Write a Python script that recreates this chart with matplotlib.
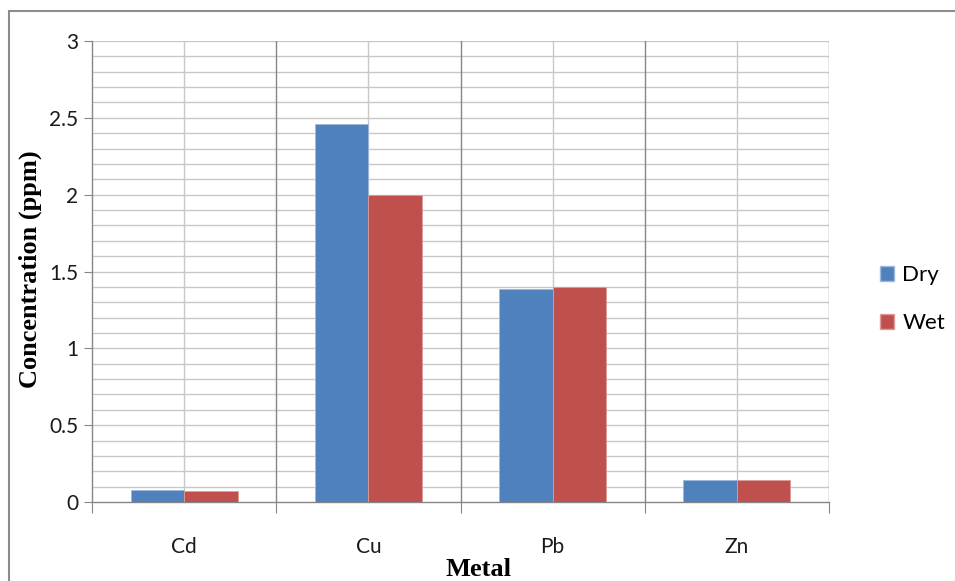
import matplotlib.pyplot as plt
import numpy as np
from matplotlib.patches import Rectangle, Patch

# data
metals = ['Cd', 'Cu', 'Pb', 'Zn']
dry = [0.08, 2.46, 1.385, 0.145]
wet = [0.07, 2.00, 1.40, 0.145]
yticks = [0, 0.5, 1, 1.5, 2, 2.5, 3]
ytick_labels = ['0', '0.5', '1', '1.5', '2', '2.5', '3']

blue = '#4F81BD'
red = '#C0504D'
grid_c = '#C8C8C8'
axis_c = '#868686'

W, H = 955, 581
fig = plt.figure(figsize=(W / 100, H / 100), dpi=100)
ax = fig.add_axes([92 / W, 1 - 502 / H, (829 - 92) / W, (502 - 41) / H])

# outer chart frame (left and top edges visible, rest runs off the picture)
fig.patches.append(Rectangle((9 / W, -0.1), 1.2, 1 - 11 / H + 0.1,
                             transform=fig.transFigure, fill=False,
                             edgecolor='#8C8C8C', linewidth=1.5, zorder=0))

x = np.arange(len(metals))
bw = 0.29
ax.bar(x - bw / 2, dry, bw, color=blue, edgecolor='#9DB9DC', linewidth=0.6, zorder=3)
ax.bar(x + bw / 2, wet, bw, color=red, edgecolor='#DC9D9B', linewidth=0.6, zorder=3)

ax.set_xlim(-0.5, len(metals) - 0.5)
ax.set_ylim(0, 3)

# horizontal gridlines every 0.1
for v in np.arange(0.1, 3.01, 0.1):
    ax.axhline(v, color=grid_c, linewidth=1.0, zorder=1)
# vertical lines: category centres (light) and boundaries (darker)
for c in x:
    ax.axvline(c, color=grid_c, linewidth=1.0, zorder=1)
for b in np.arange(0.5, len(metals) - 0.4, 1):
    ax.axvline(b, color=axis_c, linewidth=1.0, zorder=1)

for s in ['top', 'right']:
    ax.spines[s].set_visible(False)
for s in ['left', 'bottom']:
    ax.spines[s].set_color(axis_c)
    ax.spines[s].set_linewidth(1.0)

font = ['Lato', 'DejaVu Sans']
ax.set_yticks(yticks)
ax.set_yticklabels(ytick_labels, fontsize=15, family=font, color='#1a1a1a')
ax.tick_params(axis='y', length=6, color=axis_c, pad=4)

ax.set_xticks(np.arange(-0.5, len(metals), 1))
ax.set_xticklabels([])
ax.tick_params(axis='x', which='major', length=8, color=axis_c)
ax.set_xticks(x, minor=True)
ax.set_xticklabels(metals, minor=True, fontsize=15, family=font, color='#1a1a1a')
ax.tick_params(axis='x', which='minor', length=0, pad=25)

fig.text(30 / W, 1 - 269 / H, 'Concentration (ppm)', rotation=90,
         ha='center', va='center', fontsize=19, fontweight='bold',
         family='Liberation Serif')
fig.text(478 / W, 1 - 569 / H, 'Metal', ha='center', va='center',
         fontsize=19, fontweight='bold', family='Liberation Serif')

handles = [Patch(facecolor=blue, edgecolor='#9DB9DC'),
           Patch(facecolor=red, edgecolor='#DC9D9B')]
leg = fig.legend(handles, ['Dry', 'Wet'], loc='center left',
                 bbox_to_anchor=(860 / W, 1 - 299 / H), frameon=False,
                 prop={'family': font, 'size': 16},
                 handlelength=0.65, handleheight=0.65, handletextpad=0.35,
                 labelspacing=1.25)

fig.savefig('out.png', dpi=100)
